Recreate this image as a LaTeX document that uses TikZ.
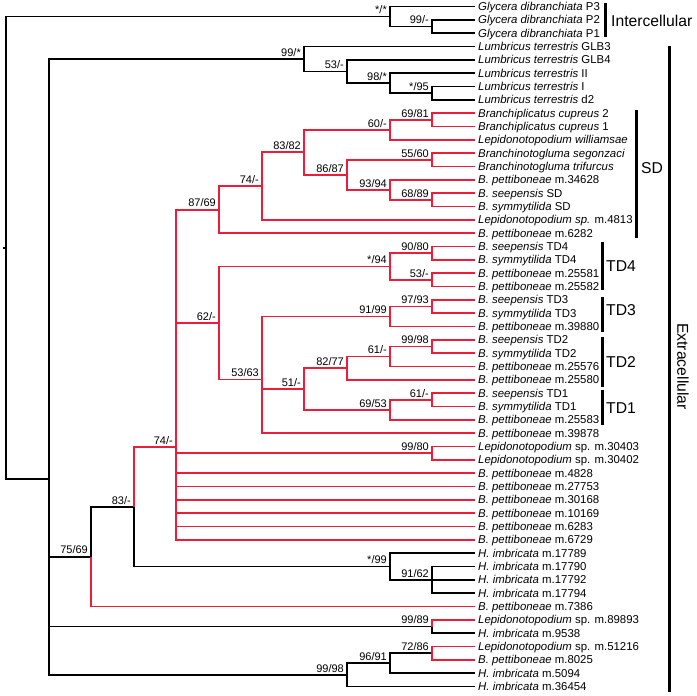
\documentclass[tikz,border=0pt]{standalone}
\usepackage{fontspec}
\setmainfont{Liberation Sans}
\definecolor{hbred}{RGB}{237,28,58}

\begin{document}
\begin{tikzpicture}[x=1pt, y=-1pt,
	taxon/.style={anchor=west, inner xsep=3pt, inner ysep=0pt, text height=8.2pt, text depth=0pt, font=\fontsize{11.4}{13}\selectfont},
	support/.style={anchor=base east, inner sep=0pt, xshift=-3pt, yshift=2.8pt, font=\fontsize{11}{13}\selectfont},
	group/.style={anchor=west, inner sep=0pt, text height=11.2pt, text depth=0pt, font=\fontsize{15.7}{18}\selectfont},
	blk/.style={draw=black, line width=1.9pt},
	rd/.style={draw=hbred, line width=1.9pt},
	groupbar/.style={draw=black, line width=3pt},
	]
	\useasboundingbox (0,0) rectangle (697,696);
	%Taxa
	\node[taxon] (t0)  at (475,6.5)   {\textit{Glycera dibranchiata} P3};
	\node[taxon] (t1)  at (475,19.8)  {\textit{Glycera dibranchiata} P2};
	\node[taxon] (t2)  at (475,33.2)  {\textit{Glycera dibranchiata} P1};
	\node[taxon] (t3)  at (475,46.5)  {\textit{Lumbricus terrestris} GLB3};
	\node[taxon] (t4)  at (475,59.8)  {\textit{Lumbricus terrestris} GLB4};
	\node[taxon] (t5)  at (475,73.2)  {\textit{Lumbricus terrestris} II};
	\node[taxon] (t6)  at (475,86.5)  {\textit{Lumbricus terrestris} I};
	\node[taxon] (t7)  at (475,99.8)  {\textit{Lumbricus terrestris} d2};
	\node[taxon] (t8)  at (475,113.2) {\textit{Branchiplicatus cupreus} 2};
	\node[taxon] (t9)  at (475,126.5) {\textit{Branchiplicatus cupreus} 1};
	\node[taxon] (t10) at (475,139.8) {\textit{Lepidonotopodium williamsae}};
	\node[taxon] (t11) at (475,153.2) {\textit{Branchinotogluma segonzaci}};
	\node[taxon] (t12) at (475,166.5) {\textit{Branchinotogluma trifurcus}};
	\node[taxon] (t13) at (475,179.8) {\textit{B. pettiboneae} m.34628};
	\node[taxon] (t14) at (475,193.2) {\textit{B. seepensis} SD};
	\node[taxon] (t15) at (475,206.5) {\textit{B. symmytilida} SD};
	\node[taxon] (t16) at (475,219.8) {\textit{Lepidonotopodium sp.} m.4813};
	\node[taxon] (t17) at (475,233.2) {\textit{B. pettiboneae} m.6282};
	\node[taxon] (t18) at (475,246.5) {\textit{B. seepensis} TD4};
	\node[taxon] (t19) at (475,259.8) {\textit{B. symmytilida} TD4};
	\node[taxon] (t20) at (475,273.2) {\textit{B. pettiboneae} m.25581};
	\node[taxon] (t21) at (475,286.5) {\textit{B. pettiboneae} m.25582};
	\node[taxon] (t22) at (475,299.8) {\textit{B. seepensis} TD3};
	\node[taxon] (t23) at (475,313.2) {\textit{B. symmytilida} TD3};
	\node[taxon] (t24) at (475,326.5) {\textit{B. pettiboneae} m.39880};
	\node[taxon] (t25) at (475,339.8) {\textit{B. seepensis} TD2};
	\node[taxon] (t26) at (475,353.2) {\textit{B. symmytilida} TD2};
	\node[taxon] (t27) at (475,366.5) {\textit{B. pettiboneae} m.25576};
	\node[taxon] (t28) at (475,379.8) {\textit{B. pettiboneae} m.25580};
	\node[taxon] (t29) at (475,393.2) {\textit{B. seepensis} TD1};
	\node[taxon] (t30) at (475,406.5) {\textit{B. symmytilida} TD1};
	\node[taxon] (t31) at (475,419.8) {\textit{B. pettiboneae} m.25583};
	\node[taxon] (t32) at (475,433.2) {\textit{B. pettiboneae} m.39878};
	\node[taxon] (t33) at (475,446.5) {\textit{Lepidonotopodium} sp. m.30403};
	\node[taxon] (t34) at (475,459.8) {\textit{Lepidonotopodium} sp. m.30402};
	\node[taxon] (t35) at (475,473.2) {\textit{B. pettiboneae} m.4828};
	\node[taxon] (t36) at (475,486.5) {\textit{B. pettiboneae} m.27753};
	\node[taxon] (t37) at (475,499.8) {\textit{B. pettiboneae} m.30168};
	\node[taxon] (t38) at (475,513.2) {\textit{B. pettiboneae} m.10169};
	\node[taxon] (t39) at (475,526.5) {\textit{B. pettiboneae} m.6283};
	\node[taxon] (t40) at (475,539.8) {\textit{B. pettiboneae} m.6729};
	\node[taxon] (t41) at (475,553.2) {\textit{H. imbricata} m.17789};
	\node[taxon] (t42) at (475,566.5) {\textit{H. imbricata} m.17790};
	\node[taxon] (t43) at (475,579.8) {\textit{H. imbricata} m.17792};
	\node[taxon] (t44) at (475,593.2) {\textit{H. imbricata} m.17794};
	\node[taxon] (t45) at (475,606.5) {\textit{B. pettiboneae} m.7386};
	\node[taxon] (t46) at (475,619.8) {\textit{Lepidonotopodium} sp. m.89893};
	\node[taxon] (t47) at (475,633.2) {\textit{H. imbricata} m.9538};
	\node[taxon] (t48) at (475,646.5) {\textit{Lepidonotopodium} sp. m.51216};
	\node[taxon] (t49) at (475,659.8) {\textit{B. pettiboneae} m.8025};
	\node[taxon] (t50) at (475,673.2) {\textit{H. imbricata} m.5094};
	\node[taxon] (t51) at (475,686.5) {\textit{H. imbricata} m.36454};

	%Internal nodes
	\coordinate (nr)  at (2.5,247.9);
	\coordinate (n0)  at (6,247.9);
	\coordinate (n1)  at (390,16.5);
	\coordinate (n2)  at (432,26.5);
	\coordinate (n3)  at (49,479.2);
	\coordinate (n4)  at (304,59.0);
	\coordinate (n5)  at (347,71.5);
	\coordinate (n6)  at (390,83.2);
	\coordinate (n7)  at (432,93.2);
	\coordinate (n8)  at (91,556.7);
	\coordinate (n9)  at (134,506.8);
	\coordinate (n10) at (176,447.2);
	\coordinate (n11) at (219,209.6);
	\coordinate (n12) at (262,186.1);
	\coordinate (n13) at (304,152.3);
	\coordinate (n14) at (390,129.8);
	\coordinate (n15) at (432,119.8);
	\coordinate (n16) at (347,174.8);
	\coordinate (n17) at (432,159.8);
	\coordinate (n18) at (390,189.8);
	\coordinate (n19) at (432,199.8);
	\coordinate (n20) at (219,323.0);
	\coordinate (n21) at (390,266.5);
	\coordinate (n22) at (432,253.2);
	\coordinate (n23) at (432,279.8);
	\coordinate (n24) at (262,379.5);
	\coordinate (n25) at (390,316.5);
	\coordinate (n26) at (432,306.5);
	\coordinate (n27) at (304,389.0);
	\coordinate (n28) at (347,368.2);
	\coordinate (n29) at (390,356.5);
	\coordinate (n30) at (432,346.5);
	\coordinate (n31) at (390,409.8);
	\coordinate (n32) at (432,399.8);
	\coordinate (n33) at (432,453.2);
	\coordinate (n34) at (390,566.5);
	\coordinate (n35) at (432,579.8);
	\coordinate (n36) at (432,626.5);
	\coordinate (n37) at (347,674.8);
	\coordinate (n38) at (390,663.2);
	\coordinate (n39) at (432,653.2);

	%Support values
	\node[support] (s1)  at (n1)  {*/*};
	\node[support] (s2)  at (n2)  {99/-};
	\node[support] (s4)  at (n4)  {99/*};
	\node[support] (s5)  at (n5)  {53/-};
	\node[support] (s6)  at (n6)  {98/*};
	\node[support] (s7)  at (n7)  {*/95};
	\node[support] (s8)  at (n8)  {75/69};
	\node[support] (s9)  at (n9)  {83/-};
	\node[support] (s10) at (n10) {74/-};
	\node[support] (s11) at (n11) {87/69};
	\node[support] (s12) at (n12) {74/-};
	\node[support] (s13) at (n13) {83/82};
	\node[support] (s14) at (n14) {60/-};
	\node[support] (s15) at (n15) {69/81};
	\node[support] (s16) at (n16) {86/87};
	\node[support] (s17) at (n17) {55/60};
	\node[support] (s18) at (n18) {93/94};
	\node[support] (s19) at (n19) {68/89};
	\node[support] (s20) at (n20) {62/-};
	\node[support] (s21) at (n21) {*/94};
	\node[support] (s22) at (n22) {90/80};
	\node[support] (s23) at (n23) {53/-};
	\node[support] (s24) at (n24) {53/63};
	\node[support] (s25) at (n25) {91/99};
	\node[support] (s26) at (n26) {97/93};
	\node[support] (s27) at (n27) {51/-};
	\node[support] (s28) at (n28) {82/77};
	\node[support] (s29) at (n29) {61/-};
	\node[support] (s30) at (n30) {99/98};
	\node[support] (s31) at (n31) {69/53};
	\node[support] (s32) at (n32) {61/-};
	\node[support] (s33) at (n33) {99/80};
	\node[support] (s34) at (n34) {*/99};
	\node[support] (s35) at (n35) {91/62};
	\node[support] (s36) at (n36) {99/89};
	\node[support] (s37) at (n37) {99/98};
	\node[support] (s38) at (n38) {96/91};
	\node[support] (s39) at (n39) {72/86};

	%Branches
	\draw[blk] (nr) -- (n0);
	\draw[blk] (n0) |- (n1);
	\draw[blk] (n0) |- (n3);
	\draw[blk] (n1) |- (t0.west);
	\draw[blk] (n1) |- (n2);
	\draw[blk] (n2) |- (t1.west);
	\draw[blk] (n2) |- (t2.west);
	\draw[blk] (n3) |- (n4);
	\draw[blk] (n3) |- (n8);
	\draw[blk] (n3) |- (n36);
	\draw[blk] (n3) |- (n37);
	\draw[blk] (n4) |- (t3.west);
	\draw[blk] (n4) |- (n5);
	\draw[blk] (n5) |- (t4.west);
	\draw[blk] (n5) |- (n6);
	\draw[blk] (n6) |- (t5.west);
	\draw[blk] (n6) |- (n7);
	\draw[blk] (n7) |- (t6.west);
	\draw[blk] (n7) |- (t7.west);
	\draw[blk] (n8) |- (n9);
	\draw[rd]  (n8) |- (t45.west);
	\draw[blk] (n9) |- (n34);
	\draw[rd]  (n9) |- (n10);
	\draw[blk] (n34) |- (t41.west);
	\draw[blk] (n34) |- (n35);
	\draw[blk] (n35) |- (t42.west);
	\draw[blk] (n35) |- (t43.west);
	\draw[blk] (n35) |- (t44.west);
	\draw[rd]  (n10) |- (n11);
	\draw[rd]  (n10) |- (n20);
	\draw[rd]  (n10) |- (n33);
	\draw[rd]  (n10) |- (t35.west);
	\draw[rd]  (n10) |- (t36.west);
	\draw[rd]  (n10) |- (t37.west);
	\draw[rd]  (n10) |- (t38.west);
	\draw[rd]  (n10) |- (t39.west);
	\draw[rd]  (n10) |- (t40.west);
	\draw[rd]  (n11) |- (n12);
	\draw[rd]  (n11) |- (t17.west);
	\draw[rd]  (n12) |- (n13);
	\draw[rd]  (n12) |- (t16.west);
	\draw[rd]  (n13) |- (n14);
	\draw[rd]  (n13) |- (n16);
	\draw[rd]  (n14) |- (n15);
	\draw[rd]  (n14) |- (t10.west);
	\draw[rd]  (n15) |- (t8.west);
	\draw[rd]  (n15) |- (t9.west);
	\draw[rd]  (n16) |- (n17);
	\draw[rd]  (n16) |- (n18);
	\draw[rd]  (n17) |- (t11.west);
	\draw[rd]  (n17) |- (t12.west);
	\draw[rd]  (n18) |- (t13.west);
	\draw[rd]  (n18) |- (n19);
	\draw[rd]  (n19) |- (t14.west);
	\draw[rd]  (n19) |- (t15.west);
	\draw[rd]  (n20) |- (n21);
	\draw[rd]  (n20) |- (n24);
	\draw[rd]  (n21) |- (n22);
	\draw[rd]  (n21) |- (n23);
	\draw[rd]  (n22) |- (t18.west);
	\draw[rd]  (n22) |- (t19.west);
	\draw[rd]  (n23) |- (t20.west);
	\draw[rd]  (n23) |- (t21.west);
	\draw[rd]  (n24) |- (n25);
	\draw[rd]  (n24) |- (n27);
	\draw[rd]  (n24) |- (t32.west);
	\draw[rd]  (n25) |- (n26);
	\draw[rd]  (n25) |- (t24.west);
	\draw[rd]  (n26) |- (t22.west);
	\draw[rd]  (n26) |- (t23.west);
	\draw[rd]  (n27) |- (n28);
	\draw[rd]  (n27) |- (n31);
	\draw[rd]  (n28) |- (n29);
	\draw[rd]  (n28) |- (t28.west);
	\draw[rd]  (n29) |- (n30);
	\draw[rd]  (n29) |- (t27.west);
	\draw[rd]  (n30) |- (t25.west);
	\draw[rd]  (n30) |- (t26.west);
	\draw[rd]  (n31) |- (n32);
	\draw[rd]  (n31) |- (t31.west);
	\draw[rd]  (n32) |- (t29.west);
	\draw[rd]  (n32) |- (t30.west);
	\draw[rd]  (n33) |- (t33.west);
	\draw[rd]  (n33) |- (t34.west);
	\draw[rd]  (n36) |- (t46.west);
	\draw[blk] (n36) |- (t47.west);
	\draw[blk] (n37) |- (n38);
	\draw[blk] (n37) |- (t51.west);
	\draw[blk] (n38) |- (n39);
	\draw[blk] (n38) |- (t50.west);
	\draw[rd]  (n39) |- (t48.west);
	\draw[rd]  (n39) |- (t49.west);

	%Groups
	\draw[groupbar] (605,3) -- (605,37);
	\draw[groupbar] (636,110) -- (636,238);
	\draw[groupbar] (602,242) -- (602,289.5);
	\draw[groupbar] (602,297) -- (602,332);
	\draw[groupbar] (602,336.5) -- (602,386.5);
	\draw[groupbar] (602,390) -- (602,425);
	\draw[groupbar] (669,46) -- (669,692);
	\node[group] (gInt) at (611,20.8)  {Intercellular};
	\node[group] (gSD)  at (641,168)   {SD};
	\node[group] (gTD4) at (606,266)   {TD4};
	\node[group] (gTD3) at (606,309.5) {TD3};
	\node[group] (gTD2) at (606,362)   {TD2};
	\node[group] (gTD1) at (606,407.5) {TD1};
	\node[group, rotate=-90, anchor=center] (gExt) at (683,366.5) {Extracellular};
\end{tikzpicture}
\end{document}
